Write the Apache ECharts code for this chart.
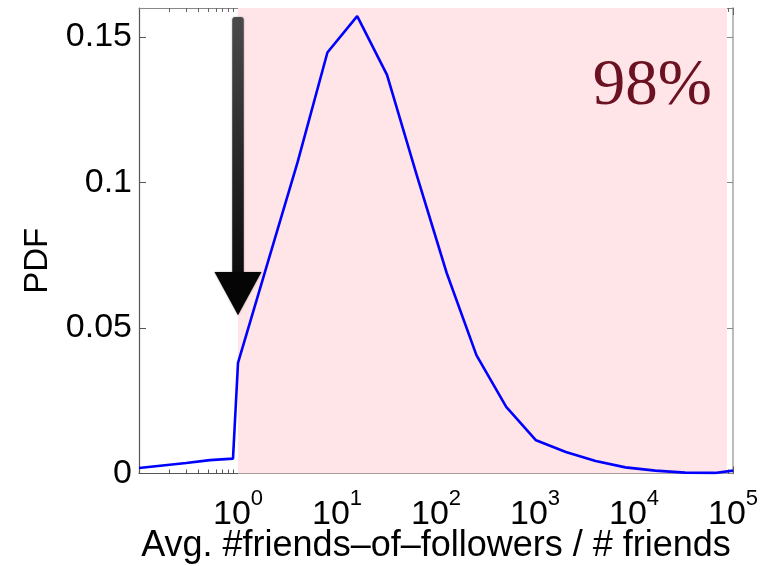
<!DOCTYPE html>
<html>
<head>
<meta charset="utf-8">
<script src="https://cdn.jsdelivr.net/npm/echarts@6/dist/echarts.min.js"></script>
<style>
  html, body { margin: 0; padding: 0; background: #ffffff; }
  #chart { width: 764px; height: 566px; }
</style>
</head>
<body>
<div id="chart"></div>
<script>
// Ratio bins (avg. friends-of-followers / friends) and their PDF values
const ratioBins = [0.1, 0.3, 0.52, 0.89, 1, 2, 4, 8, 16, 32, 64, 128, 256, 512,
                   1024, 2048, 4096, 8192, 16384, 32768, 65536, 100000];
const pdfValues = [0.0019, 0.0036, 0.0046, 0.0051, 0.038, 0.0726, 0.107, 0.1447,
                   0.1572, 0.137, 0.1025, 0.069, 0.0407, 0.0229, 0.0114, 0.0074,
                   0.0043, 0.0021, 0.0010, 0.0003, 0.0002, 0.0010];

// Axis ticks
const xTickValues = [1, 10, 100, 1000, 10000, 100000];
const yTickValues = [0, 0.05, 0.1, 0.15];

// Shaded share of users with ratio above 1
const shadeStart = 1;
const shadeEnd = 87000;
const shareLabel = '98%';

// Arrow marking ratio = 1 (data coordinates)
const arrowX = 1;
const arrowTop = 0.1569;
const arrowHeadBase = 0.0693;
const arrowTip = 0.0544;

const xMin = 0.1, xMax = 100000;
const yMin = 0, yMax = 0.16;

// minor log ticks at 2..9 x 10^k
const minorTicks = [];
for (let e = -1; e < 5; e++) {
  for (let m = 2; m <= 9; m++) minorTicks.push(m * Math.pow(10, e));
}

const FONT = 'Liberation Sans, Helvetica, Arial, sans-serif';
const chart = echarts.init(document.getElementById('chart'), null, { renderer: 'canvas' });

const hiddenLabel = { show: false };
const baseLog = { type: 'log', logBase: 10, min: xMin, max: xMax, splitLine: { show: false } };
const baseVal = { type: 'value', min: yMin, max: yMax, splitLine: { show: false } };

const option = {
  animation: false,
  backgroundColor: '#ffffff',
  grid: { left: 139, right: 31, top: 8, bottom: 92.5, containLabel: false, outerBoundsMode: 'none' },
  xAxis: [
    Object.assign({}, baseLog, {
      position: 'bottom',
      name: 'Avg. #friends\u2013of\u2013followers / # friends',
      nameLocation: 'middle',
      nameGap: 55,
      nameMoveOverlap: false,
      nameTextStyle: { fontFamily: FONT, fontSize: 36, color: '#000' },
      axisLine: { lineStyle: { color: '#555', width: 1.2 } },
      axisTick: { inside: true, length: 7, customValues: [0.1].concat(xTickValues), lineStyle: { color: '#555' } },
      axisLabel: {
        customValues: xTickValues,
        margin: 14,
        fontFamily: FONT,
        fontSize: 34,
        color: '#000',
        formatter: v => '{b|10}{s|' + Math.round(Math.log10(v)) + '}',
        rich: {
          b: { fontFamily: FONT, fontSize: 34, color: '#000', padding: [10, 0, 0, 0] },
          s: { fontFamily: FONT, fontSize: 22, color: '#000', verticalAlign: 'top' }
        }
      }
    }),
    Object.assign({}, baseLog, {
      position: 'bottom',
      axisLine: { show: false },
      axisTick: { inside: true, length: 4, customValues: minorTicks, lineStyle: { color: '#555' } },
      axisLabel: hiddenLabel
    }),
    Object.assign({}, baseLog, {
      position: 'top',
      axisLine: { lineStyle: { color: '#888', width: 1.2 } },
      axisTick: { inside: true, length: 7, customValues: xTickValues, lineStyle: { color: '#666' } },
      axisLabel: hiddenLabel
    }),
    Object.assign({}, baseLog, {
      position: 'top',
      axisLine: { show: false },
      axisTick: { inside: true, length: 4, customValues: minorTicks, lineStyle: { color: '#666' } },
      axisLabel: hiddenLabel
    })
  ],
  yAxis: [
    Object.assign({}, baseVal, {
      position: 'left',
      name: 'PDF',
      nameLocation: 'middle',
      nameGap: 85,
      nameMoveOverlap: false,
      nameRotate: 90,
      nameTextStyle: { fontFamily: FONT, fontSize: 33, color: '#000', padding: [0, 40, 0, 0] },
      axisLine: { show: true, lineStyle: { color: '#555', width: 1.2 } },
      axisTick: { show: true, inside: true, length: 7, customValues: yTickValues, lineStyle: { color: '#555' } },
      axisLabel: { customValues: yTickValues, margin: 7, fontFamily: FONT, fontSize: 34, color: '#000' }
    }),
    Object.assign({}, baseVal, {
      position: 'right',
      axisLine: { show: true, lineStyle: { color: '#bbbbbb', width: 2 } },
      axisTick: { show: true, inside: true, length: 7, customValues: yTickValues, lineStyle: { color: '#888' } },
      axisLabel: hiddenLabel
    })
  ],
  series: [
    {
      type: 'line',
      xAxisIndex: 0,
      yAxisIndex: 0,
      data: ratioBins.map((x, i) => [x, pdfValues[i]]),
      showSymbol: false,
      clip: true,
      z: 5,
      lineStyle: { color: '#0000ff', width: 2.6 },
      markArea: {
        silent: true,
        itemStyle: { color: '#ffe4e8' },
        data: [[{ xAxis: shadeStart }, { xAxis: shadeEnd }]]
      }
    }
  ]
};

chart.setOption(option);

// Annotations placed through the grid's coordinate system
const pTop = chart.convertToPixel({ gridIndex: 0 }, [arrowX, arrowTop]);
const pBase = chart.convertToPixel({ gridIndex: 0 }, [arrowX, arrowHeadBase]);
const pTip = chart.convertToPixel({ gridIndex: 0 }, [arrowX, arrowTip]);
const shaftW = 11.5, headHalf = 23.5;

chart.setOption({
  graphic: [
    {
      type: 'rect',
      z: 100,
      shape: { x: pTop[0] - shaftW / 2, y: pTop[1], width: shaftW, height: pBase[1] - pTop[1] + 2, r: [3, 3, 0, 0] },
      style: {
        fill: new echarts.graphic.LinearGradient(0, 0, 0, 1, [
          { offset: 0, color: '#4a4a4a' },
          { offset: 1, color: '#0c0c0c' }
        ]),
        shadowBlur: 2,
        shadowColor: 'rgba(0,0,0,0.35)'
      }
    },
    {
      type: 'polygon',
      z: 100,
      shape: { points: [[pBase[0] - headHalf, pBase[1]], [pBase[0] + headHalf, pBase[1]], [pTip[0], pTip[1]]] },
      style: { fill: '#050505', shadowBlur: 2, shadowColor: 'rgba(0,0,0,0.35)' }
    },
    {
      type: 'text',
      z: 100,
      right: 52,
      top: 54,
      style: {
        text: shareLabel,
        fontFamily: 'Liberation Serif, Times New Roman, serif',
        fontSize: 65,
        fill: '#6b1222'
      }
    }
  ]
});
</script>
</body>
</html>
